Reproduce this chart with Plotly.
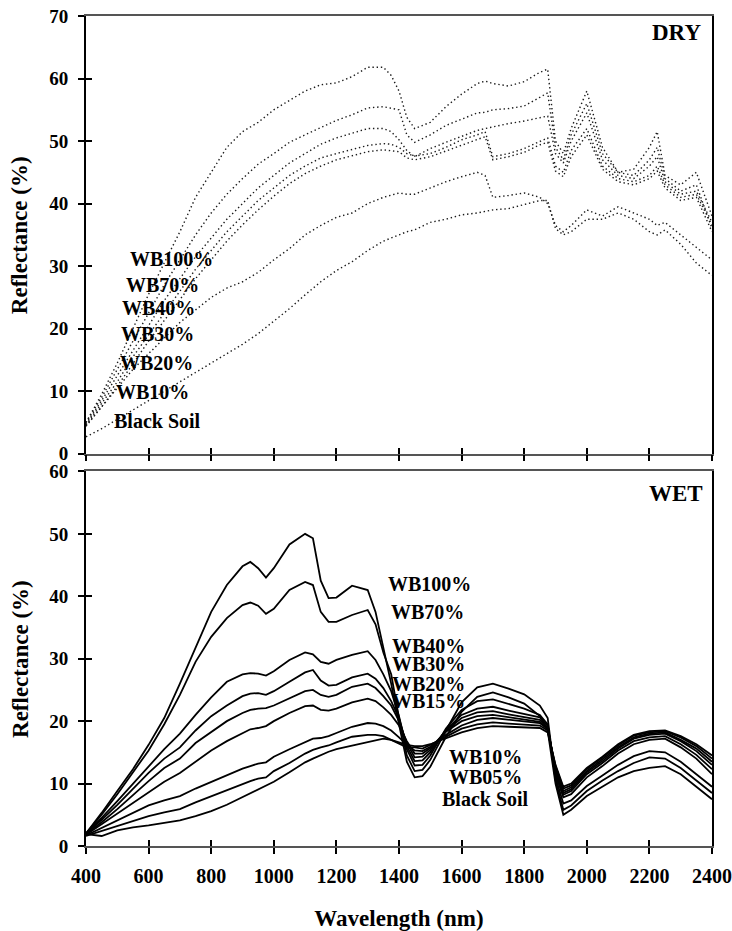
import plotly.graph_objects as go

# ---------------- data ----------------
dry_wl = [400, 450, 500, 550, 600, 650, 700, 750, 800, 850,
          900, 950, 1000, 1050, 1100, 1150, 1200, 1250, 1300, 1350,
          1375, 1400, 1425, 1450, 1500, 1550, 1600, 1650, 1675, 1700,
          1750, 1800, 1850, 1875, 1900, 1925, 1950, 2000, 2050, 2100,
          2150, 2200, 2225, 2250, 2300, 2350, 2400]

dry_wb100 = [5.0, 9.5, 14.5, 20.0, 25.5, 30.5, 35.5, 41.0, 45.0, 49.0,
             51.5, 53.0, 55.0, 56.5, 58.0, 59.0, 59.3, 60.3, 61.8, 61.8,
             60.5, 58.0, 53.8, 52.0, 53.0, 55.5, 57.5, 59.2, 59.6, 59.2,
             58.8, 59.5, 61.0, 61.5, 50.0, 48.0, 52.0, 58.0, 49.0, 45.0,
             45.5, 49.0, 51.5, 44.5, 43.0, 45.0, 38.0]
dry_wb70 = [5.0, 9.0, 13.5, 18.0, 22.5, 27.0, 31.0, 35.0, 38.5, 41.5,
            44.0, 46.3, 48.0, 49.8, 51.0, 52.2, 53.3, 54.2, 55.3, 55.5,
            55.3, 55.0, 51.0, 49.8, 51.0, 52.5, 53.5, 54.5, 54.6, 55.0,
            55.2, 55.6, 57.0, 57.7, 49.0, 47.0, 51.0, 56.0, 48.0, 45.0,
            44.5, 47.0, 49.0, 44.0, 42.0, 43.0, 36.0]
dry_wb40 = [4.8, 8.5, 12.5, 16.5, 20.5, 24.5, 28.0, 31.5, 34.5, 37.5,
            40.0, 42.5, 44.5, 46.5, 48.0, 49.5, 50.5, 51.3, 52.0, 52.0,
            51.5, 50.2, 48.5, 47.5, 48.8, 49.8, 50.8, 51.7, 52.0, 52.3,
            52.8, 53.2, 53.8, 54.0, 48.0, 46.5, 50.0, 54.5, 47.0, 44.5,
            44.0, 46.0, 47.5, 43.5, 41.5, 42.0, 37.0]
dry_wb30 = [4.6, 8.0, 11.5, 15.5, 19.0, 22.5, 26.0, 29.5, 32.5, 35.5,
            38.0, 40.5, 42.5, 44.5, 46.0, 47.3, 48.0, 48.6, 49.3, 49.6,
            49.5, 49.0, 48.0, 47.6, 48.0, 49.0, 50.2, 51.0, 51.5, 47.5,
            48.0, 48.8, 50.0, 50.5, 46.0, 45.0, 48.5, 52.0, 46.0, 44.0,
            43.5, 44.5, 46.0, 43.0, 41.0, 41.5, 36.5]
dry_wb20 = [4.4, 7.5, 10.8, 14.5, 18.0, 21.3, 24.6, 28.0, 31.0, 34.0,
            36.6, 39.0, 41.2, 43.2, 44.8, 46.0, 47.0, 47.6, 48.3, 48.6,
            48.5, 48.3, 47.3, 47.0, 47.5, 48.4, 49.4, 50.3, 50.7, 47.0,
            47.5, 48.2, 49.4, 49.8, 45.2, 44.3, 47.5, 51.0, 45.5, 43.5,
            43.0, 44.0, 45.2, 42.5, 40.5, 41.0, 35.5]
dry_wb10 = [4.5, 7.5, 10.5, 13.5, 16.0, 18.5, 21.0, 23.0, 25.0, 26.5,
            27.5, 29.0, 31.0, 32.8, 35.0, 36.5, 37.8, 38.5, 40.0, 41.0,
            41.3, 41.7, 41.5, 41.5, 42.5, 43.5, 44.3, 45.0, 44.5, 41.0,
            41.3, 41.7, 41.0, 40.0, 36.5, 35.5, 36.5, 39.0, 38.0, 39.5,
            38.5, 37.5, 36.5, 37.0, 35.0, 33.0, 31.0]
dry_black = [2.7, 4.0, 5.5, 7.0, 8.5, 10.0, 11.5, 13.0, 14.5, 16.0,
             17.5, 19.2, 21.2, 23.2, 25.4, 27.5, 29.3, 30.7, 32.5, 34.0,
             34.5, 35.0, 35.5, 35.8, 37.0, 37.5, 38.2, 38.5, 38.8, 39.0,
             39.2, 39.8, 40.5, 40.5, 36.0, 35.0, 35.5, 37.5, 37.5, 38.5,
             37.5, 35.5, 35.0, 35.8, 33.5, 30.5, 28.5]

wet_wl = [400, 450, 500, 550, 600, 650, 700, 750, 800, 850,
          900, 925, 950, 975, 1000, 1050, 1100, 1125, 1150, 1175,
          1200, 1250, 1300, 1325, 1350, 1375, 1400, 1425, 1450, 1475,
          1500, 1550, 1600, 1650, 1700, 1750, 1800, 1850, 1875, 1900,
          1925, 1950, 2000, 2050, 2100, 2150, 2200, 2250, 2300, 2350,
          2400]

wet_wb100 = [2.0, 5.3, 8.8, 12.3, 16.2, 20.5, 26.0, 31.8, 37.5, 41.8,
             44.8, 45.5, 44.5, 43.0, 44.5, 48.3, 50.0, 49.3, 42.5, 39.7,
             39.8, 41.7, 41.0, 37.5, 32.0, 26.0, 19.5, 13.5, 11.0, 11.2,
             12.7, 17.5, 21.5, 23.9, 24.6, 23.8, 22.8, 20.8, 18.5, 10.0,
             5.0, 5.8, 8.0, 9.5, 11.0, 12.0, 12.5, 12.8, 11.5, 9.5,
             7.5]
wet_wb70 = [2.0, 5.0, 8.3, 11.8, 15.3, 19.5, 24.2, 29.5, 33.5, 36.5,
            38.6, 39.0, 38.5, 37.2, 38.0, 41.0, 42.3, 41.8, 37.5, 35.9,
            35.9, 37.0, 37.8, 35.5, 31.0, 27.5, 20.5, 14.5, 12.0, 12.2,
            13.8, 18.5, 23.0, 25.4, 26.0, 25.2, 24.3, 22.5, 20.5, 10.5,
            5.8, 6.5, 8.8, 10.5, 12.0, 13.3, 14.2, 14.0, 12.5, 10.5,
            8.5]
wet_wb40 = [2.0, 4.5, 7.2, 10.0, 12.8, 15.5, 18.0, 21.0, 23.8, 26.3,
            27.5, 27.7, 27.6, 27.3, 28.0, 29.8, 31.0, 30.7, 29.5, 29.2,
            29.8, 30.6, 31.2, 29.8, 27.5, 24.8, 20.8, 15.5, 12.9, 13.0,
            14.5, 18.8, 21.8, 23.2, 23.5, 22.8, 22.0, 21.0, 19.5, 11.0,
            6.8, 7.3, 9.6, 11.3, 13.0, 14.4, 15.2, 15.0, 13.5, 11.5,
            9.5]
wet_wb30 = [2.0, 4.2, 6.6, 9.2, 11.7, 14.0, 15.8, 18.5, 20.8, 22.5,
            24.0, 24.4, 24.5, 24.2, 24.8, 26.3, 27.8, 28.2, 26.5, 25.7,
            25.8, 27.0, 27.6, 26.8, 25.3, 23.2, 20.5, 16.0, 13.6, 13.7,
            15.0, 18.6, 21.0, 22.0, 22.3, 21.7, 21.2, 20.6, 19.3, 11.5,
            7.8, 8.3, 11.0, 12.8, 14.8, 16.3, 17.0, 17.2, 15.8, 14.0,
            11.5]
wet_wb20 = [1.9, 3.8, 5.9, 8.2, 10.4, 12.5, 14.0, 16.5, 18.3, 20.0,
            21.3, 21.8, 22.0, 22.1, 22.5, 23.7, 24.8, 25.0, 24.2, 23.9,
            24.2, 25.5, 26.0, 25.3, 24.0, 22.5, 20.0, 16.5, 14.2, 14.3,
            15.4, 18.5, 20.5, 21.4, 21.6, 21.1, 20.7, 20.2, 19.0, 12.0,
            8.2, 8.8, 11.5, 13.3, 15.3, 16.8, 17.4, 17.6, 16.3, 14.6,
            12.3]
wet_wb15 = [1.8, 3.5, 5.2, 7.0, 8.7, 10.3, 11.7, 13.5, 15.3, 16.8,
            18.1, 18.7, 18.9, 19.2, 20.0, 21.3, 22.4, 22.5, 21.8, 21.7,
            22.0, 23.0, 23.6, 23.2, 22.2, 21.0, 19.3, 16.8, 14.8, 14.8,
            15.7, 18.3, 20.0, 20.8, 21.0, 20.6, 20.3, 19.9, 18.8, 12.3,
            8.5, 9.1, 11.8, 13.6, 15.6, 17.2, 17.8, 18.0, 16.8, 15.2,
            13.0]
wet_wb10 = [1.7, 2.9, 4.1, 5.3, 6.5, 7.3, 8.0, 9.2, 10.3, 11.4,
            12.4, 12.8, 13.2, 13.4, 14.3, 15.5, 16.6, 17.2, 17.3, 17.6,
            18.1, 19.1, 19.7, 19.6, 19.2, 18.5, 17.4, 16.2, 15.3, 15.2,
            15.9, 17.8, 19.3, 20.2, 20.5, 20.2, 20.0, 19.7, 18.7, 12.5,
            8.8, 9.4, 12.0, 13.9, 15.8, 17.4, 18.0, 18.2, 17.0, 15.6,
            13.5]
wet_wb05 = [1.6, 2.4, 3.2, 4.0, 4.8, 5.4, 5.9, 7.0, 8.0, 9.0,
            10.0, 10.4, 10.8, 11.0, 12.0, 13.3, 14.8, 15.4, 15.8, 16.1,
            16.6, 17.5, 17.8, 17.8, 17.6, 17.0, 16.3, 15.8, 15.8, 15.6,
            16.2, 17.5, 18.8, 19.5, 19.8, 19.6, 19.5, 19.3, 18.5, 12.8,
            9.2, 9.7, 12.3, 14.2, 16.1, 17.7, 18.2, 18.4, 17.4, 16.0,
            14.0]
wet_black = [1.9, 1.6, 2.5, 3.0, 3.3, 3.7, 4.1, 4.8, 5.6, 6.6,
             7.8, 8.4, 9.0, 9.6, 10.3, 11.8, 13.4, 14.0, 14.6, 15.1,
             15.5, 16.1, 16.7, 17.0, 17.2, 17.0, 16.6, 16.2, 16.0, 16.0,
             16.3, 17.2, 18.2, 18.9, 19.2, 19.1, 19.0, 18.9, 18.2, 13.0,
             9.5, 10.0, 12.5, 14.3, 16.3, 17.8, 18.4, 18.5, 17.6, 16.3,
             14.5]

dry_names = ["WB100%", "WB70%", "WB40%", "WB30%", "WB20%", "WB10%", "Black Soil"]
dry_series = [dry_wb100, dry_wb70, dry_wb40, dry_wb30, dry_wb20, dry_wb10, dry_black]
wet_names = ["WB100%", "WB70%", "WB40%", "WB30%", "WB20%", "WB15%", "WB10%", "WB05%", "Black Soil"]
wet_series = [wet_wb100, wet_wb70, wet_wb40, wet_wb30, wet_wb20, wet_wb15, wet_wb10, wet_wb05, wet_black]

x_ticks = [400, 600, 800, 1000, 1200, 1400, 1600, 1800, 2000, 2200, 2400]

# label positions (wavelength, reflectance)
dry_label_x = [672, 643, 633, 627, 624, 611, 627]
dry_label_y = [31.1, 27.0, 23.3, 19.2, 14.5, 9.9, 5.3]
wet_label_x = [1499, 1491, 1493, 1493, 1493, 1493, 1675, 1675, 1675]
wet_label_y = [41.9, 37.5, 32.1, 29.2, 25.9, 23.2, 14.2, 11.0, 7.5]

# ---------------- figure ----------------
FONT = "Liberation Serif"
fig = go.Figure()

for name, vals in zip(dry_names, dry_series):
    fig.add_trace(go.Scatter(x=dry_wl, y=vals, mode="lines", name=name,
                             line=dict(color="#1a1a1a", width=1.4, dash="1.4px,2.8px"),
                             xaxis="x", yaxis="y", showlegend=False, hoverinfo="skip"))
for name, vals in zip(wet_names, wet_series):
    fig.add_trace(go.Scatter(x=wet_wl, y=vals, mode="lines", name=name,
                             line=dict(color="black", width=1.8),
                             xaxis="x2", yaxis="y2", showlegend=False, hoverinfo="skip"))

# dummy traces for inside-tick overlay axes
for xa, ya in [("x3", "y"), ("x", "y3"), ("x4", "y2"), ("x2", "y4")]:
    fig.add_trace(go.Scatter(x=[None], y=[None], xaxis=xa, yaxis=ya,
                             showlegend=False, hoverinfo="skip"))

xtickfont = dict(family=FONT, size=20, color="black", weight="bold")
ytickfont = dict(family=FONT, size=19, color="black", weight="bold")
titlefont = dict(family=FONT, size=23, color="black", weight="bold")

common = dict(showgrid=False, zeroline=False, ticks="outside", ticklen=6,
              tickwidth=1.5, tickcolor="black", showline=True, mirror=True,
              automargin=False)
inner = dict(showgrid=False, zeroline=False, ticks="inside", ticklen=6,
             tickwidth=1.5, tickcolor="black", showline=False,
             showticklabels=False, automargin=False)

top_dom = [0.4726, 1.0]
bot_dom = [0.0, 0.4513]

fig.update_layout(
    width=732, height=931,
    margin=dict(l=86, r=20, t=16, b=84.5, autoexpand=False),
    paper_bgcolor="white", plot_bgcolor="white",
    font=dict(family=FONT, color="black"),
    xaxis=dict(**common, domain=[0, 1], anchor="y", range=[400, 2400],
               tickvals=x_ticks, showticklabels=False, tickfont=xtickfont,
               linecolor="#555555", linewidth=1.5),
    yaxis=dict(**common, domain=top_dom, anchor="x", range=[0, 70], dtick=10,
               linecolor="black", linewidth=2, tickfont=ytickfont,
               ticklabelstandoff=6),
    xaxis2=dict(**common, domain=[0, 1], anchor="y2", range=[400, 2400],
                tickvals=x_ticks, linecolor="#555555", linewidth=1.5,
                tickfont=xtickfont, ticklabelstandoff=5,
                title=dict(text="Wavelength (nm)", font=titlefont, standoff=25)),
    yaxis2=dict(**common, domain=bot_dom, anchor="x2", range=[0, 60], dtick=10,
                linecolor="black", linewidth=2, tickfont=ytickfont,
                ticklabelstandoff=6),
    xaxis3=dict(**inner, overlaying="x", anchor="y", range=[400, 2400], tickvals=x_ticks),
    yaxis3=dict(**inner, overlaying="y", anchor="x", range=[0, 70], dtick=10),
    xaxis4=dict(**inner, overlaying="x2", anchor="y2", range=[400, 2400], tickvals=x_ticks),
    yaxis4=dict(**inner, overlaying="y2", anchor="x2", range=[0, 60], dtick=10),
)

labfont = dict(family=FONT, size=20, color="black", weight="bold")
annotations = []
for t, x, y in zip(dry_names, dry_label_x, dry_label_y):
    annotations.append(dict(text=t, x=x, y=y, xref="x", yref="y", showarrow=False,
                            font=labfont, xanchor="center", yanchor="middle"))
for t, x, y in zip(wet_names, wet_label_x, wet_label_y):
    annotations.append(dict(text=t, x=x, y=y, xref="x2", yref="y2", showarrow=False,
                            font=labfont, xanchor="center", yanchor="middle"))
annotations.append(dict(text="DRY", x=2371, y=67.3, xref="x", yref="y", showarrow=False,
                        font=dict(family=FONT, size=23, color="black", weight="bold"),
                        xanchor="right", yanchor="middle"))
annotations.append(dict(text="WET", x=2378, y=56.5, xref="x2", yref="y2", showarrow=False,
                        font=dict(family=FONT, size=23, color="black", weight="bold"),
                        xanchor="right", yanchor="middle"))
# y-axis titles (rotated), placed left of the tick labels
for dom in (top_dom, bot_dom):
    annotations.append(dict(text="Reflectance (%)", textangle=-90,
                            x=-0.105, y=(dom[0] + dom[1]) / 2,
                            xref="paper", yref="paper", showarrow=False,
                            font=titlefont, xanchor="center", yanchor="middle"))
fig.update_layout(annotations=annotations)

fig.write_html("out.html")
